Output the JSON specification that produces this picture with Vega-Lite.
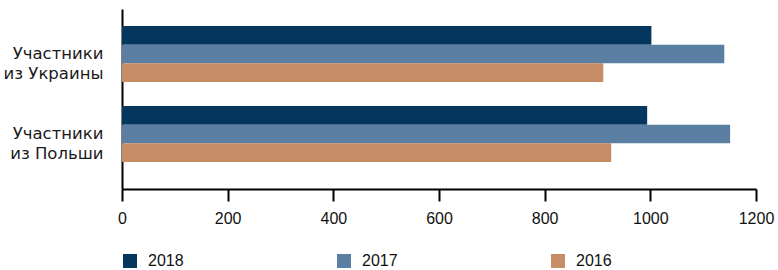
{
  "$schema": "https://vega.github.io/schema/vega-lite/v6.json",
  "width": 634,
  "height": 180,
  "autosize": {"type": "none"},
  "padding": {"left": 122, "top": 9, "right": 22, "bottom": 81},
  "background": "white",
  "config": {
    "view": {"stroke": null},
    "font": "Liberation Sans"
  },
  "data": {
    "values": [
      {"group": "Участники из Украины", "year": "2018", "value": 1002},
      {"group": "Участники из Украины", "year": "2017", "value": 1140},
      {"group": "Участники из Украины", "year": "2016", "value": 911},
      {"group": "Участники из Польши", "year": "2018", "value": 994},
      {"group": "Участники из Польши", "year": "2017", "value": 1151},
      {"group": "Участники из Польши", "year": "2016", "value": 926}
    ]
  },
  "mark": {"type": "bar"},
  "encoding": {
    "y": {
      "field": "group",
      "type": "nominal",
      "sort": ["Участники из Украины", "Участники из Польши"],
      "scale": {"paddingInner": 0.3, "paddingOuter": 0.275, "align": 0.386},
      "axis": {
        "title": null,
        "ticks": false,
        "domainColor": "black",
        "domainWidth": 2,
        "labelExpr": "[slice(datum.label, 0, 9), slice(datum.label, 10)]",
        "labelFont": "DejaVu Sans",
        "labelFontSize": 16.5,
        "labelColor": "#1a1a1a",
        "labelLineHeight": 20,
        "labelPadding": 19,
        "labelAlign": "right",
        "labelBaseline": "middle",
        "labelLimit": 200
      }
    },
    "yOffset": {
      "field": "year",
      "type": "nominal",
      "scale": {"domain": ["2018", "2017", "2016"], "paddingInner": 0, "paddingOuter": 0}
    },
    "x": {
      "field": "value",
      "type": "quantitative",
      "scale": {"domain": [0, 1200], "nice": false},
      "axis": {
        "title": null,
        "grid": false,
        "format": "d",
        "values": [0, 200, 400, 600, 800, 1000, 1200],
        "domainColor": "black",
        "domainWidth": 2,
        "tickColor": "black",
        "tickWidth": 2,
        "tickSize": 12,
        "labelFontSize": 16,
        "labelColor": "#111111",
        "labelPadding": 9,
        "labelFlush": false
      }
    },
    "color": {
      "field": "year",
      "type": "nominal",
      "scale": {"domain": ["2018", "2017", "2016"], "range": ["#04365E", "#5A7FA2", "#C68D67"]},
      "legend": {
        "title": null,
        "orient": "none",
        "legendX": 0,
        "legendY": 244,
        "direction": "horizontal",
        "columns": 3,
        "columnPadding": 152,
        "symbolType": "square",
        "symbolSize": 196,
        "symbolStrokeWidth": 0,
        "symbolOpacity": 1,
        "labelFontSize": 16,
        "labelColor": "#111111",
        "labelOffset": 10
      }
    }
  }
}
